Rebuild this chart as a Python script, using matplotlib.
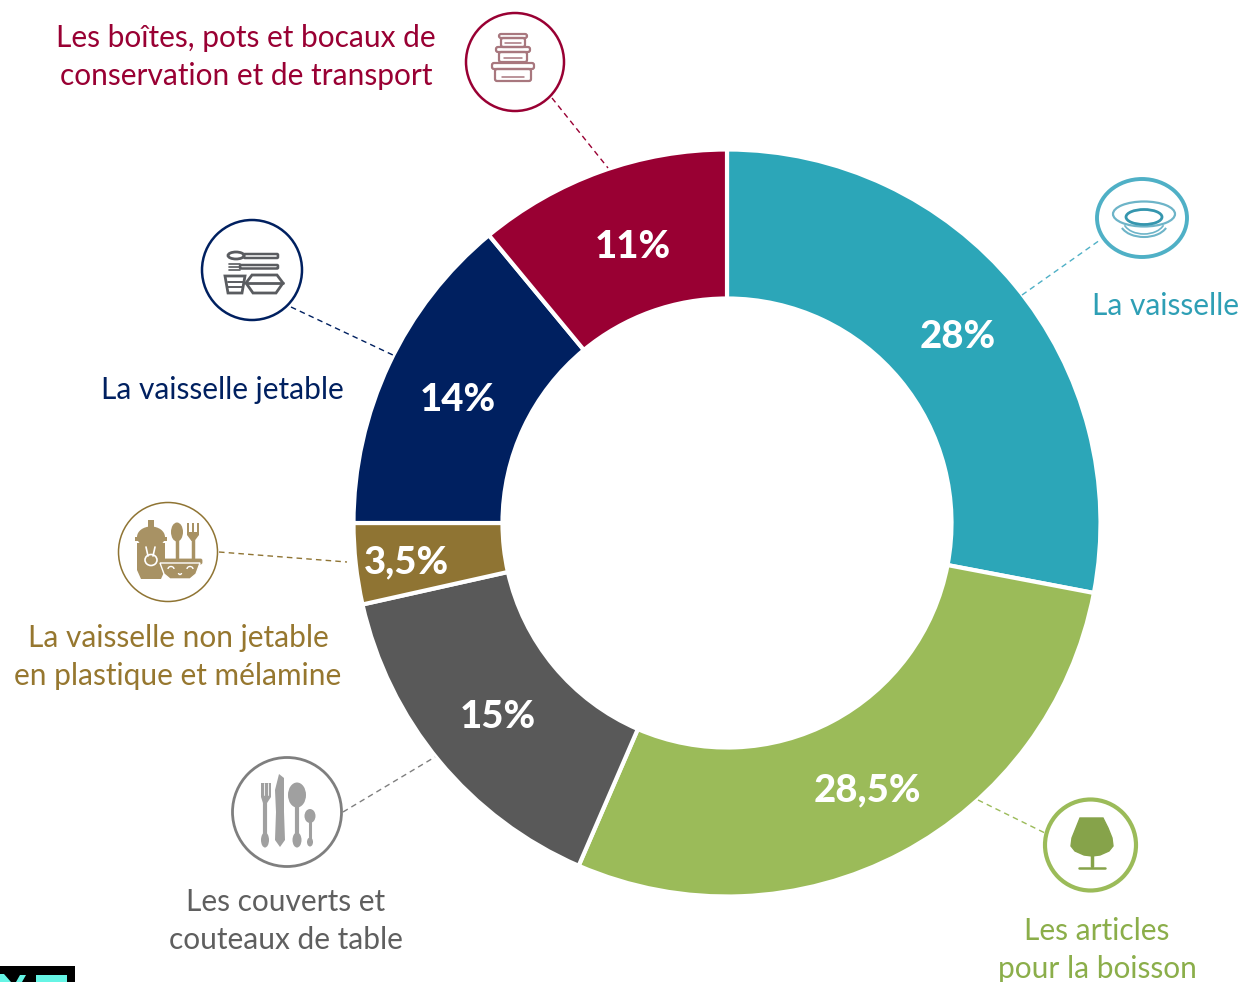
import numpy as np
import matplotlib
matplotlib.use("Agg")
import matplotlib.pyplot as plt
from matplotlib.patches import Ellipse, Polygon, Rectangle, Arc, FancyBboxPatch

plt.rcParams['font.family'] = ['Lato', 'DejaVu Sans']

# data, clockwise from the top
categories = ["La vaisselle", "Les articles\npour la boisson", "Les couverts et\ncouteaux de table",
              "La vaisselle non jetable\nen plastique et mélamine", "La vaisselle jetable",
              "Les boîtes, pots et bocaux de\nconservation et de transport"]
values = [28, 28.5, 15, 3.5, 14, 11]
value_labels = ["28%", "28,5%", "15%", "3,5%", "14%", "11%"]
colors = ["#2CA6B8", "#9BBB59", "#595959", "#8F7433", "#002060", "#990033"]
text_colors = ["#2E9FB5", "#8BAE4A", "#5F5F5F", "#96772F", "#002060", "#990033"]

fig = plt.figure(figsize=(12.45, 9.82), dpi=100)
ax = fig.add_axes([0, 0, 1, 1])

# y axis runs downwards, so startangle 270 + counterclock is clockwise from the top
cx, cy, R = 727, 523, 373.5
wedges, _ = ax.pie(values, startangle=270, counterclock=True, colors=colors, center=(cx, cy), radius=R,
                   wedgeprops=dict(width=149, edgecolor="white", linewidth=3))
ax.set_xlim(0, 1245)
ax.set_ylim(982, 0)
ax.set_aspect("equal")
ax.axis("off")

# percent labels in the middle of the ring
nudge_x = [1, 1, 0, -24, 0, 7]
nudge_y = [4, 4, 4, 7, 4, 4]
for w, lab, dx, dy in zip(wedges, value_labels, nudge_x, nudge_y):
    a = np.radians((w.theta1 + w.theta2) / 2)
    ax.text(cx + 298 * np.cos(a) + dx, cy + 298 * np.sin(a) + dy, lab, color="white", fontsize=27.5,
            fontweight="black", ha="center", va="center")

# name labels: x, y of the centre of the block
label_pos = [(1166, 306), (1097, 950), (286, 921), (178, 657), (222, 390), (246, 57)]
for name, col, (x, y) in zip(categories, text_colors, label_pos):
    ax.text(x, y, name, color=col, fontsize=21.5, ha="center", va="center", linespacing=1.46)

# icon rings and leader lines
rings = [(1142, 218, 45, 39, 2.8), (1090.5, 845, 45.5, 45.5, 3), (287, 812, 54.5, 54.5, 2), (168, 552, 49.5, 49.5, 1.1),
         (252, 270, 50, 50, 1.8), (515, 62, 49, 49, 1.8)]
leaders = [((1022, 295), (1100, 240)), ((978, 800), (1045, 833)), ((343, 812), (435, 757)),
           ((219, 552), (347, 562)), ((291, 307), (395, 356)), ((552, 98), (608, 168))]
for (x, y, rx, ry, lw), (p0, p1), col in zip(rings, leaders, colors):
    col = "#7F7F7F" if col == "#595959" else col
    if col == "#2CA6B8":
        col = "#4FB0C6"
    ax.add_patch(Ellipse((x, y), 2 * rx, 2 * ry, fc="white", ec=col, lw=lw, zorder=3))
    ax.plot([p0[0], p1[0]], [p0[1], p1[1]], color=col, lw=1, ls=(0, (4, 3)), zorder=2)


def box(x0, y0, x1, y1, col, lw=1.6, fc="none", rad=3):
    ax.add_patch(FancyBboxPatch((x0, y0), x1 - x0, y1 - y0, boxstyle="round,pad=0,rounding_size=%s" % rad,
                                fc=fc, ec=col, lw=lw, zorder=4))


def line(xs, ys, col, lw=1.6):
    ax.plot(xs, ys, color=col, lw=lw, zorder=5, solid_capstyle="round")


# plate
c = "#6DB4C8"
ax.add_patch(Arc((1144, 222), 48, 30, theta1=15, theta2=165, ec=c, lw=1.5, zorder=4))
ax.add_patch(Arc((1144, 220), 42, 28, theta1=15, theta2=165, ec=c, lw=1.2, zorder=4))
ax.add_patch(Ellipse((1144, 214), 62, 25, fc="white", ec=c, lw=1.6, zorder=4))
ax.add_patch(Ellipse((1144, 217), 36, 15, fc="white", ec="#3596AE", lw=2, zorder=4))

# glass
c = "#86A34A"
ax.add_patch(Polygon([(1080, 818), (1103, 818), (1108, 828), (1112, 838), (1113, 846), (1109, 851), (1100, 855), (1092, 856),
                      (1084, 855), (1075, 851), (1071, 846), (1072, 838), (1076, 828)], fc=c, ec=c, lw=1, zorder=4))
line([1092, 1092], [855, 866], c, 2.5)
line([1079, 1105], [868, 868], c, 1.8)

# cutlery
c = "#A0A0A0"
line([265, 265], [797, 840], c, 3)
ax.add_patch(Ellipse((265, 840), 8, 15, fc=c, ec="none", zorder=4))
ax.add_patch(Polygon([(261, 783), (271, 783), (271, 797), (267, 803), (263, 803), (261, 797)], fc=c, ec="none", zorder=4))
line([264.3, 264.3], [783, 795], "white", 0.6)
line([267.7, 267.7], [783, 795], "white", 0.6)
ax.add_patch(Polygon([(279, 774), (284, 778), (284, 812), (285, 840), (280, 847), (275, 840), (276, 812), (275, 790)], fc=c, ec="none", zorder=4))
ax.add_patch(Ellipse((297, 795), 18, 25, fc=c, ec="none", zorder=4))
line([297, 297], [805, 840], c, 3)
ax.add_patch(Ellipse((297, 840), 9, 15, fc=c, ec="none", zorder=4))
ax.add_patch(Ellipse((310, 816), 11, 14, fc=c, ec="none", zorder=4))
line([310, 310], [820, 842], c, 2.2)
ax.add_patch(Ellipse((310, 842), 6, 9, fc=c, ec="none", zorder=4))

# shaker, spoon, fork and bowl
c = "#A89264"
ax.add_patch(Rectangle((148, 520), 6, 7, fc=c, ec="none", zorder=4))
ax.add_patch(Ellipse((151, 537), 28, 21, fc=c, ec="none", zorder=4))
ax.add_patch(Polygon([(137, 543), (165, 543), (165, 570), (161, 579), (141, 579), (137, 570)], fc=c, ec="none", zorder=4))
ax.add_patch(Rectangle((135, 537), 32, 4, fc=c, ec="none", zorder=4))
ax.add_patch(Ellipse((151, 560), 12, 11, fc="none", ec="white", lw=1.2, zorder=5))
line([146, 148], [547, 556], "white", 1.2)
line([155, 153], [547, 556], "white", 1.2)
ax.add_patch(Ellipse((177, 532), 12, 19, fc=c, ec="none", zorder=4))
line([177, 177], [538, 560], c, 2.5)
ax.add_patch(Polygon([(187, 523), (189, 523), (189, 532), (192, 532), (192, 523), (194, 523), (194, 532),
                      (197, 532), (197, 523), (199, 523), (199, 535), (194.5, 541), (191.5, 541), (187, 535)], fc=c, ec="none", zorder=4))
line([193, 193], [540, 560], c, 2.5)
ax.add_patch(Polygon([(160, 563), (200, 563), (196, 574), (190, 579), (170, 579), (164, 574)], fc=c, ec="white", lw=1, zorder=5))
box(158, 559, 202, 564, c, lw=0.6, fc=c, rad=1.5)
ax.add_patch(Arc((171, 569), 6, 5, theta1=180, theta2=360, ec="white", lw=1, zorder=6))
ax.add_patch(Arc((190, 569), 6, 5, theta1=180, theta2=360, ec="white", lw=1, zorder=6))
ax.add_patch(Arc((180, 573), 3, 3, theta1=0, theta2=180, ec="white", lw=1, zorder=6))

# disposable set
c = "#5A5C60"
ax.add_patch(Ellipse((236, 255.5), 16, 7, fc="none", ec=c, lw=2, zorder=4))
box(244, 254, 278, 258, c, lw=1.8, rad=1)
box(240, 265, 278, 268.5, c, lw=1.8, rad=1)
line([229, 240], [264, 264], c, 1.2)
line([229, 240], [267, 267], c, 1.2)
line([229, 240], [270, 270], c, 1.2)
ax.add_patch(Polygon([(225, 276), (245, 276), (242, 293), (228, 293)], fc="none", ec=c, lw=2, zorder=4))
line([228, 243], [282, 282], c, 1.4)
line([228, 242], [287, 287], c, 1.4)
ax.add_patch(Polygon([(246, 283), (252, 275), (277, 275), (283, 283), (276, 293), (253, 293)], fc="none", ec=c, lw=2, zorder=4))
line([246, 283], [283, 283], c, 2)

# stacked containers
c = "#A8777E"
box(499, 34, 527, 38, c, rad=2)
box(501, 38, 525, 47, c, rad=2)
box(496, 47, 530, 52, c, rad=2)
box(499, 52, 527, 62, c, rad=2)
box(492, 63, 534, 69, c, rad=2)
box(495, 69, 531, 81, c, rad=2)
line([505, 521], [43, 43], c, 1.1)
line([504, 522], [58, 58], c, 1.1)
line([502, 524], [77, 77], c, 1.1)

# logo corner cut by the image edge
ax.add_patch(Rectangle((0, 966), 75, 16, fc="black", ec="none", zorder=6))
ax.add_patch(Rectangle((36, 975), 31, 8, fc="#66F5E5", ec="none", zorder=7))
ax.add_patch(Polygon([(0, 974), (4, 974), (11, 982), (0, 982)], fc="#66F5E5", ec="none", zorder=7))
ax.add_patch(Polygon([(16, 982), (20, 975), (26, 975), (22, 982)], fc="#66F5E5", ec="none", zorder=7))

fig.savefig("out.png", dpi=100)
